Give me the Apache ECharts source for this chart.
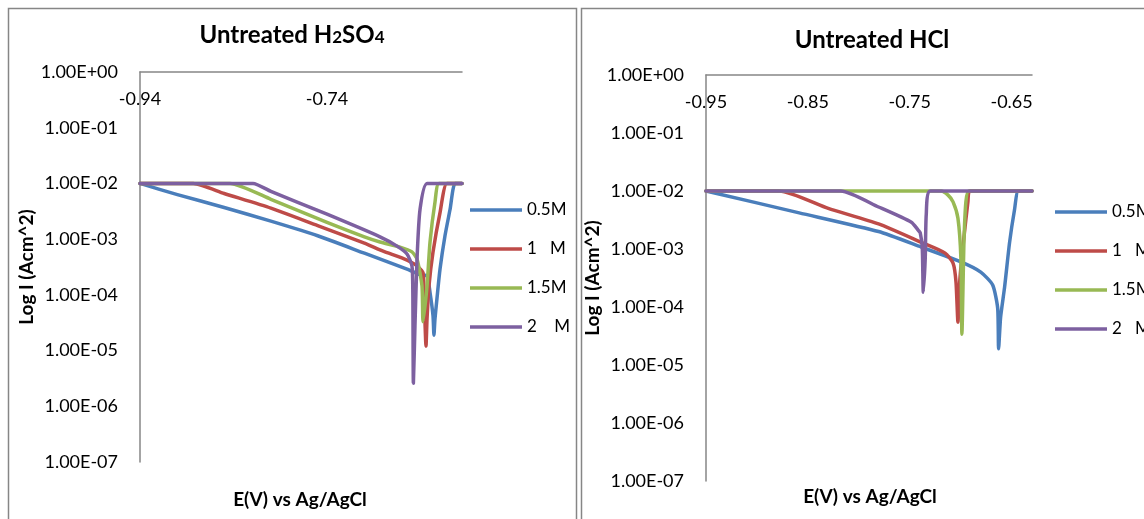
<!DOCTYPE html>
<html>
<head>
<meta charset="utf-8">
<style>
  html, body { margin: 0; padding: 0; background: #fff; }
  #chart { width: 1144px; height: 519px; }
</style>
<script src="https://cdn.jsdelivr.net/npm/echarts@6/dist/echarts.min.js"></script>
</head>
<body>
<div id="chart"></div>
<script>
// legend labels (spacing as in the original sheet)
const namesH2SO4 = ['0.5M', '1   M', '1.5M', '2    M']
const namesHCl = ['0.5M', '1   M', '1.5M', '2   M']

// Untreated H2SO4 : [E (V vs Ag/AgCl), I (A/cm^2)]
const h2so4_05 = [
  [-0.94, 1.0e-2], [-0.90, 6.3e-3], [-0.85, 3.7e-3], [-0.80, 2.1e-3], [-0.75, 1.15e-3],
  [-0.70, 5.6e-4], [-0.6544, 2.9e-4], [-0.6405, 2.3e-4], [-0.633, 2.2e-4], [-0.6298, 1.1e-4],
  [-0.6266, 4.2e-5], [-0.6256, 1.9e-5], [-0.6245, 3.7e-5], [-0.6224, 8.5e-5], [-0.6191, 2.9e-4],
  [-0.6138, 1.15e-3], [-0.6084, 3.4e-3], [-0.6031, 1.0e-2], [-0.5956, 1.0e-2]
]
const h2so4_1 = [
  [-0.94, 1.0e-2], [-0.883, 1.0e-2], [-0.85, 6.6e-3], [-0.80, 3.6e-3], [-0.75, 1.75e-3],
  [-0.70, 8.5e-4], [-0.68, 6.1e-4], [-0.66, 4.6e-4], [-0.648, 3.7e-4], [-0.6427, 3.2e-4],
  [-0.6373, 2.5e-4], [-0.6362, 1.1e-4], [-0.6341, 1.2e-5], [-0.633, 3.7e-5], [-0.6309, 1.45e-4],
  [-0.6266, 5.9e-4], [-0.6191, 3.0e-3], [-0.6117, 1.0e-2], [-0.5956, 1.0e-2]
]
const h2so4_15 = [
  [-0.94, 1.0e-2], [-0.8437, 1.0e-2], [-0.80, 5.2e-3], [-0.74, 2.0e-3], [-0.70, 1.1e-3],
  [-0.6833, 8.9e-4], [-0.6619, 7.2e-4], [-0.6491, 5.9e-4], [-0.6437, 4.4e-4], [-0.6384, 1.45e-4],
  [-0.6373, 3.3e-5], [-0.633, 1.45e-4], [-0.6298, 8.9e-4], [-0.6245, 4.6e-3], [-0.6202, 1.0e-2],
  [-0.5956, 1.0e-2]
]
const h2so4_2 = [
  [-0.94, 1.0e-2], [-0.8191, 1.0e-2], [-0.80, 7.2e-3], [-0.74, 2.8e-3], [-0.6833, 1.1e-3],
  [-0.6651, 7.5e-4], [-0.6544, 5.4e-4], [-0.6491, 3.3e-4], [-0.6482, 1.1e-4], [-0.6476, 2.6e-6],
  [-0.6459, 2.8e-5], [-0.6437, 4.4e-4], [-0.6405, 3.4e-3], [-0.633, 1.0e-2], [-0.5956, 1.0e-2]
]

// Untreated HCl
const hcl_05 = [
  [-0.95, 1.0e-2], [-0.8585, 4.2e-3], [-0.7806, 2.0e-3], [-0.7387, 1.08e-3], [-0.6998, 6.0e-4],
  [-0.6803, 4.0e-4], [-0.6686, 2.4e-4], [-0.6637, 9.6e-5], [-0.6628, 1.9e-5], [-0.6608, 6.7e-5],
  [-0.6569, 2.2e-4], [-0.652, 1.3e-3], [-0.6472, 4.7e-3], [-0.6433, 1.0e-2], [-0.63, 1.0e-2]
]
const hcl_1 = [
  [-0.95, 1.0e-2], [-0.878, 1.0e-2], [-0.83, 5.0e-3], [-0.7806, 2.7e-3], [-0.7387, 1.3e-3],
  [-0.7153, 8.5e-4], [-0.7075, 5.7e-4], [-0.7046, 2.7e-4], [-0.7027, 5.5e-5], [-0.7008, 3.0e-4],
  [-0.6968, 1.6e-3], [-0.6929, 6.5e-3], [-0.691, 1.0e-2], [-0.63, 1.0e-2]
]
const hcl_15 = [
  [-0.95, 1.0e-2], [-0.7192, 1.0e-2], [-0.7124, 8.5e-3], [-0.7075, 6.5e-3], [-0.7027, 3.4e-3],
  [-0.6998, 6.9e-4], [-0.6988, 3.4e-5], [-0.6968, 1.3e-3], [-0.6949, 6.5e-3], [-0.692, 1.0e-2],
  [-0.63, 1.0e-2]
]
const hcl_2 = [
  [-0.95, 1.0e-2], [-0.8176, 1.0e-2], [-0.7806, 5.3e-3], [-0.7484, 2.9e-3], [-0.7416, 2.1e-3],
  [-0.7397, 1.9e-3], [-0.7377, 1.04e-3], [-0.7367, 1.8e-4], [-0.7348, 6.9e-4], [-0.7338, 3.9e-3],
  [-0.7299, 1.0e-2], [-0.63, 1.0e-2]
]

const COLORS = ['#4a7ebb', '#be4b48', '#98b954', '#7d60a0']
const FONT = 'Lato'
const AXIS_GREY = '#868686'

// 1.00E-03 style labels
function sci(v) {
  const [m, e] = Number(v).toExponential(2).split('e')
  const n = Number(e)
  return m + 'E' + (n < 0 ? '-' : '+') + String(Math.abs(n)).padStart(2, '0')
}

const chart = echarts.init(document.getElementById('chart'))

function xAxisOf(gridIndex, min, max, interval) {
  return {
    type: 'value', gridIndex, position: 'top', min, max, interval,
    axisLine: { onZero: false, lineStyle: { color: AXIS_GREY, width: 1.5 } },
    axisTick: { show: false },
    splitLine: { show: false },
    axisLabel: {
      inside: true, margin: 18, color: '#000', fontFamily: FONT, fontSize: 18,
      showMaxLabel: false, formatter: v => Number(v).toFixed(2)
    }
  }
}

function yAxisOf(gridIndex, nameGap) {
  return {
    type: 'log', logBase: 10, gridIndex, min: 1e-7, max: 1,
    name: 'Log I (Acm^2)', nameLocation: 'middle', nameGap,
    nameTextStyle: { color: '#000', fontFamily: FONT, fontSize: 19, fontWeight: 'bold' },
    axisLine: { show: true, lineStyle: { color: AXIS_GREY, width: 1.5 } },
    axisTick: { show: false },
    splitLine: { show: false },
    axisLabel: { margin: 22, color: '#000', fontFamily: FONT, fontSize: 18, formatter: sci }
  }
}

function lineSeries(name, data, i, idx) {
  return {
    name, type: 'line', data, xAxisIndex: idx, yAxisIndex: idx,
    showSymbol: false, smooth: 0.2,
    lineStyle: { width: 3.5, color: COLORS[i], join: 'round', cap: 'round' },
    itemStyle: { color: COLORS[i] }
  }
}

function legendOf(left, top, data) {
  return {
    orient: 'vertical', left, top, data, icon: 'rect',
    itemWidth: 52, itemHeight: 3.5, itemGap: 21,
    textStyle: { color: '#000', fontFamily: FONT, fontSize: 17, lineHeight: 18 }
  }
}

function titleText(x, y, text, rich) {
  return {
    type: 'text', x, y,
    style: {
      text, align: 'center', verticalAlign: 'middle', fill: '#000',
      font: 'bold 19px ' + FONT, rich
    }
  }
}

const SUB = {
  a: { fontSize: 24, fontWeight: 'bold', fontFamily: FONT, fill: '#000' },
  b: { fontSize: 17, fontWeight: 'bold', fontFamily: FONT, fill: '#000', padding: [6, 0, 0, 0] }
}

chart.setOption({
  animation: false,
  grid: [
    { left: 140, top: 72, width: 322, height: 390 },
    { left: 706, top: 75, width: 326, height: 406 }
  ],
  xAxis: [xAxisOf(0, -0.94, -0.5956, 0.2), xAxisOf(1, -0.95, -0.63, 0.1)],
  yAxis: [yAxisOf(0, 98), yAxisOf(1, 95)],
  legend: [legendOf(465, 196, namesH2SO4), legendOf(1050, 198, namesHCl)],
  graphic: [
    { type: 'rect', shape: { x: 8.5, y: 8.5, width: 568, height: 530 }, style: { fill: 'none', stroke: AXIS_GREY, lineWidth: 1.5 } },
    { type: 'rect', shape: { x: 581.5, y: 8.5, width: 580, height: 530 }, style: { fill: 'none', stroke: AXIS_GREY, lineWidth: 1.5 } },
    titleText(292, 35, '{a|Untreated H}{b|2}{a|SO}{b|4}', SUB),
    titleText(872, 40, '{a|Untreated HCl}', SUB),
    titleText(300, 500, 'E(V) vs Ag/AgCl'),
    titleText(870, 497, 'E(V) vs Ag/AgCl')
  ],
  series: [
    lineSeries(namesH2SO4[0], h2so4_05, 0, 0),
    lineSeries(namesH2SO4[1], h2so4_1, 1, 0),
    lineSeries(namesH2SO4[2], h2so4_15, 2, 0),
    lineSeries(namesH2SO4[3], h2so4_2, 3, 0),
    lineSeries(namesHCl[0], hcl_05, 0, 1),
    lineSeries(namesHCl[1], hcl_1, 1, 1),
    lineSeries(namesHCl[2], hcl_15, 2, 1),
    lineSeries(namesHCl[3], hcl_2, 3, 1)
  ]
})

window.addEventListener('resize', () => chart.resize())
</script>
</body>
</html>
